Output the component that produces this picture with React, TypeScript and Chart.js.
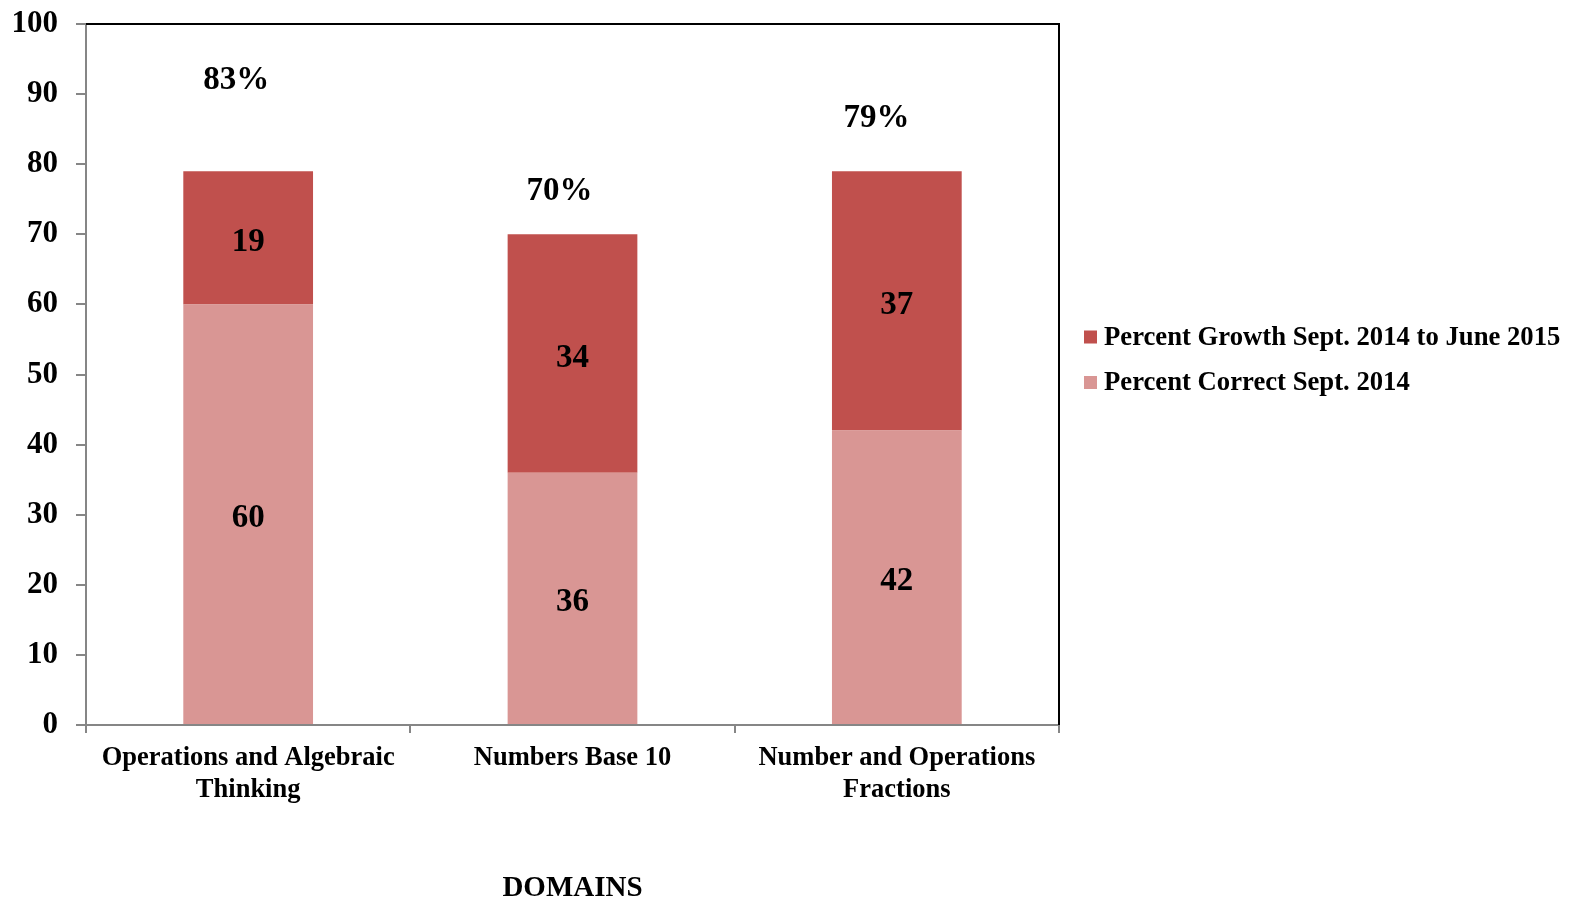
import React, { useEffect, useRef } from "react";
import { Chart, registerables } from "chart.js";

Chart.register(...registerables);

const categories: (string | string[])[] = [
  ["Operations and Algebraic", "Thinking"],
  "Numbers Base 10",
  ["Number and Operations", "Fractions"],
];
const percentCorrectSept2014 = [60, 36, 42];
const percentGrowth = [19, 34, 37];
const totalLabels = ["83%", "70%", "79%"];
// placement of the total annotations (y in data units, x offset in category widths)
const totalLabelY = [92.0, 76.1, 86.5];
const totalLabelDx = [-0.037, -0.04, -0.063];
const yTicks = { min: 0, max: 100, step: 10 };

const SERIF = '"Liberation Serif", "Times New Roman", Times, serif';
const DARK = "#C0504D";
const LIGHT = "#D99694";
const AXIS_GRAY = "#868686";

const PLOT_LEFT = 86;
const PLOT_TOP = 24;
const PLOT_RIGHT = 1059;
const PLOT_BOTTOM = 725;
const W = 1585;
const H = 907;

const labelsPlugin = {
  id: "valueLabels",
  afterDatasetsDraw(chart: any) {
    const { ctx } = chart;
    ctx.save();
    ctx.fillStyle = "#000";
    ctx.textAlign = "center";
    ctx.textBaseline = "middle";
    ctx.font = `bold 33px ${SERIF}`;
    chart.data.datasets.forEach((ds: any, di: number) => {
      const meta = chart.getDatasetMeta(di);
      meta.data.forEach((bar: any, i: number) => {
        const p = bar.getProps(["x", "y", "base"], true);
        ctx.fillText(String(ds.data[i]), p.x, (p.y + p.base) / 2 + 4.5);
      });
    });
    const xs = chart.scales.x;
    const ys = chart.scales.y;
    const catW = (xs.right - xs.left) / categories.length;
    totalLabels.forEach((t, i) => {
      const x = xs.getPixelForValue(i) + totalLabelDx[i] * catW;
      const y = ys.getPixelForValue(totalLabelY[i]);
      ctx.fillText(t, x, y);
    });
    ctx.restore();
  },
};

const framePlugin = {
  id: "frame",
  afterDraw(chart: any) {
    const { ctx, chartArea } = chart;
    ctx.save();
    ctx.strokeStyle = "#000";
    ctx.lineWidth = 2;
    ctx.beginPath();
    ctx.moveTo(chartArea.left, chartArea.top);
    ctx.lineTo(chartArea.right, chartArea.top);
    ctx.lineTo(chartArea.right, chartArea.bottom);
    ctx.stroke();
    ctx.restore();
  },
};

// legend drawn to the right of the plot, series in reverse order
const legendPlugin = {
  id: "sideLegend",
  afterDraw(chart: any) {
    const { ctx, chartArea } = chart;
    const items = chart.data.datasets
      .map((ds: any) => ({ text: ds.label, color: ds.backgroundColor }))
      .reverse();
    const boxX = chartArea.right + 25;
    const box = 13;
    const firstY = 337;
    const gap = 45.5;
    ctx.save();
    ctx.font = `bold 26.7px ${SERIF}`;
    ctx.textAlign = "left";
    ctx.textBaseline = "middle";
    items.forEach((it: any, i: number) => {
      const cy = firstY + i * gap;
      ctx.fillStyle = it.color;
      ctx.fillRect(boxX, cy - box / 2, box, box);
      ctx.fillStyle = "#000";
      ctx.fillText(it.text, boxX + box + 7, cy + 1);
    });
    ctx.restore();
  },
};

export default function App() {
  const ref = useRef<HTMLCanvasElement | null>(null);
  useEffect(() => {
    if (!ref.current) return;
    const chart = new Chart(ref.current, {
      type: "bar",
      data: {
        labels: categories,
        datasets: [
          {
            label: "Percent Correct Sept. 2014",
            data: percentCorrectSept2014,
            backgroundColor: LIGHT,
            borderWidth: 0,
            barPercentage: 0.4,
            categoryPercentage: 1,
          },
          {
            label: "Percent Growth Sept. 2014 to June 2015",
            data: percentGrowth,
            backgroundColor: DARK,
            borderWidth: 0,
            barPercentage: 0.4,
            categoryPercentage: 1,
          },
        ],
      },
      options: {
        responsive: false,
        animation: false,
        layout: { padding: { left: 0, top: PLOT_TOP, right: W - PLOT_RIGHT, bottom: 0 } },
        plugins: {
          tooltip: { enabled: false },
          legend: { display: false },
        },
        scales: {
          x: {
            stacked: true,
            grid: {
              display: true,
              drawOnChartArea: false,
              drawTicks: true,
              tickLength: 8,
              color: AXIS_GRAY,
              lineWidth: 2,
            },
            border: { display: true, color: AXIS_GRAY, width: 2 },
            ticks: {
              color: "#000",
              padding: 9,
              maxRotation: 0,
              autoSkip: false,
              font: { family: SERIF, size: 26.5, weight: "bold", lineHeight: 1.2 },
            },
            title: {
              display: true,
              text: "DOMAINS",
              color: "#000",
              padding: { top: 0, bottom: 1 },
              font: { family: SERIF, size: 29, weight: "bold" },
            },
            afterFit(scale: any) {
              scale.height = H - PLOT_BOTTOM;
              scale.paddingLeft = 0;
              scale.paddingRight = 0;
            },
          },
          y: {
            stacked: true,
            min: yTicks.min,
            max: yTicks.max,
            ticks: {
              stepSize: yTicks.step,
              color: "#000",
              padding: 18,
              font: { family: SERIF, size: 31, weight: "bold" },
            },
            grid: {
              display: true,
              drawOnChartArea: false,
              drawTicks: true,
              tickLength: 10,
              color: AXIS_GRAY,
              lineWidth: 2,
            },
            border: { display: true, color: AXIS_GRAY, width: 2 },
            afterFit(scale: any) {
              scale.width = PLOT_LEFT;
              scale.paddingTop = 0;
              scale.paddingBottom = 0;
            },
          },
        },
      },
      plugins: [labelsPlugin, framePlugin, legendPlugin],
    } as any);
    return () => chart.destroy();
  }, []);
  return (
    <div style={{ position: "fixed", left: 0, top: 0, width: W, height: H, background: "#fff" }}>
      <canvas ref={ref} width={W} height={H} />
    </div>
  );
}
